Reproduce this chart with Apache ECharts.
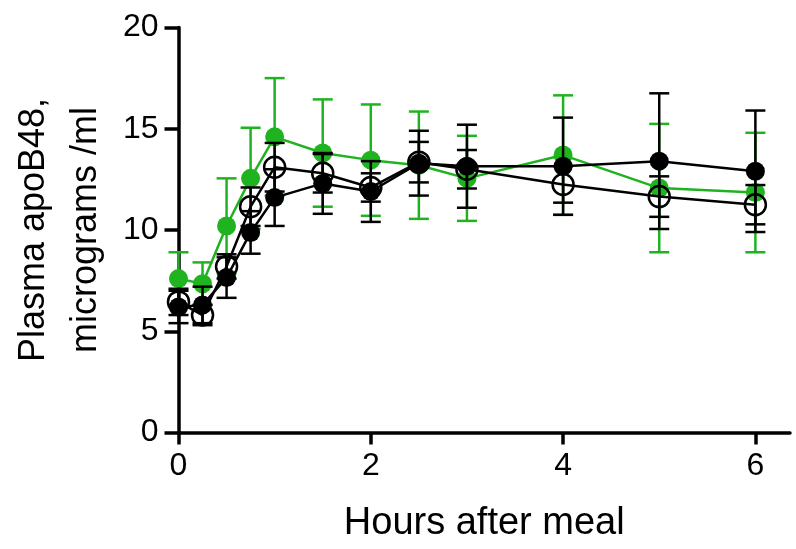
<!DOCTYPE html>
<html lang="en">
  <head>
    <meta charset="UTF-8" />
    <title>Plasma apoB48</title>
    <script src="https://cdn.jsdelivr.net/npm/echarts@6.0.0/dist/echarts.min.js"></script>
    <style>
      html, body { margin: 0; padding: 0; background: #fff; }
      #main { width: 796px; height: 549px; }
    </style>
  </head>
  <body>
    <div id="main"></div>
    <script type="text/javascript">
      // time points (hours after meal)
      var hours = [0, 0.25, 0.5, 0.75, 1, 1.5, 2, 2.5, 3, 4, 5, 6];
      var xTicks = [0, 2, 4, 6];

      // green filled circles
      var greenMean = [7.6, 7.35, 10.2, 12.55, 14.6, 13.8, 13.45, 13.2, 12.55, 13.7, 12.07, 11.85];
      var greenErr = [1.3, 1.05, 2.35, 2.5, 2.9, 2.65, 2.75, 2.65, 2.1, 2.95, 3.17, 2.95];

      // open circles
      var openMean = [6.45, 5.8, 8.2, 11.15, 13.1, 12.8, 12.1, 13.35, 13.0, 12.25, 11.65, 11.25];
      var openErr = [0.65, 0.5, 0.6, 0.95, 1.2, 0.95, 0.7, 1.0, 0.95, 0.9, 1.0, 0.97];

      // black filled circles
      var blackMean = [6.2, 6.3, 7.65, 9.88, 11.6, 12.3, 11.9, 13.3, 13.15, 13.15, 13.4, 12.9];
      var blackErr = [0.8, 0.9, 1.0, 1.05, 1.4, 1.5, 1.5, 1.6, 2.05, 2.4, 3.35, 3.0];

      var GREEN = '#1fb41f';
      var FONT = 'Liberation Sans, Arial, sans-serif';

      var myChart = echarts.init(document.getElementById('main'));

      function points(mean) {
        return hours.map(function (h, i) { return [h, mean[i]]; });
      }
      function bars(mean, err) {
        return hours.map(function (h, i) { return [h, mean[i] - err[i], mean[i] + err[i]]; });
      }
      // vertical error bar with caps
      function errorBar(color) {
        return function (params, api) {
          var x = api.value(0);
          var lo = api.coord([x, api.value(1)]);
          var hi = api.coord([x, api.value(2)]);
          var half = 10;
          var style = { stroke: color, lineWidth: 2.5, fill: null };
          return {
            type: 'group',
            children: [
              { type: 'line', shape: { x1: hi[0], y1: hi[1], x2: lo[0], y2: lo[1] }, style: style },
              { type: 'line', shape: { x1: hi[0] - half, y1: hi[1], x2: hi[0] + half, y2: hi[1] }, style: style },
              { type: 'line', shape: { x1: lo[0] - half, y1: lo[1], x2: lo[0] + half, y2: lo[1] }, style: style }
            ]
          };
        };
      }
      function errSeries(mean, err, color, z) {
        return {
          type: 'custom',
          z: z,
          renderItem: errorBar(color),
          encode: { x: 0, y: [1, 2] },
          data: bars(mean, err),
          silent: true
        };
      }

      var option = {
        animation: false,
        backgroundColor: '#fff',
        grid: { left: 177, top: 27.5, width: 613, height: 405 },
        xAxis: {
          type: 'value',
          min: 0,
          max: 6.36,
          interval: 2,
          name: 'Hours after meal',
          nameLocation: 'middle',
          nameGap: 72,
          nameTextStyle: { fontFamily: FONT, fontSize: 38, color: '#000' },
          axisLine: { lineStyle: { color: '#000', width: 3.5 } },
          axisTick: { length: 12, customValues: xTicks, lineStyle: { color: '#000', width: 3.5 } },
          axisLabel: { customValues: xTicks, margin: 18, fontFamily: FONT, fontSize: 32, color: '#000' },
          splitLine: { show: false }
        },
        yAxis: {
          type: 'value',
          min: 0,
          max: 20,
          interval: 5,
          name: 'Plasma apoB48,\nmicrograms /ml',
          nameLocation: 'middle',
          nameGap: 64,
          nameTextStyle: { fontFamily: FONT, fontSize: 36, lineHeight: 52, color: '#000' },
          axisLine: { show: true, lineStyle: { color: '#000', width: 3.5 } },
          axisTick: { show: true, length: 14, lineStyle: { color: '#000', width: 3.5 } },
          axisLabel: { margin: 20, fontFamily: FONT, fontSize: 32, color: '#000' },
          splitLine: { show: false }
        },
        series: [
          errSeries(greenMean, greenErr, GREEN, 1),
          {
            type: 'line', z: 2, data: points(greenMean),
            symbol: 'circle', symbolSize: 19,
            itemStyle: { color: GREEN },
            lineStyle: { color: GREEN, width: 2.5 }
          },
          errSeries(openMean, openErr, '#000', 3),
          {
            type: 'line', z: 4, data: points(openMean),
            symbol: 'circle', symbolSize: 21,
            itemStyle: { color: 'rgba(0,0,0,0)', borderColor: '#000', borderWidth: 2.5 },
            lineStyle: { color: '#000', width: 2.5 }
          },
          errSeries(blackMean, blackErr, '#000', 5),
          {
            type: 'line', z: 6, data: points(blackMean),
            symbol: 'circle', symbolSize: 19,
            itemStyle: { color: '#000' },
            lineStyle: { color: '#000', width: 2.5 }
          }
        ]
      };

      myChart.setOption(option);
    </script>
  </body>
</html>
